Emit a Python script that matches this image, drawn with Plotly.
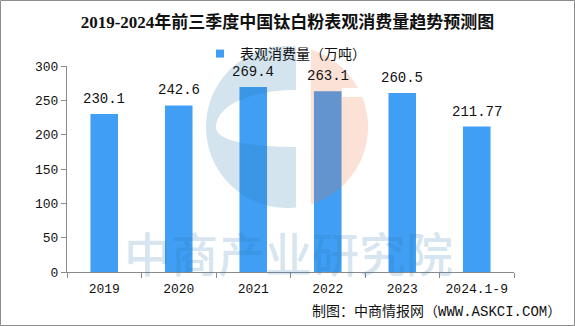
import numpy as np
import plotly.graph_objects as go

# Apparent consumption of titanium dioxide in China (10k tonnes)
years = ["2019", "2020", "2021", "2022", "2023", "2024.1-9"]
consumption = [230.1, 242.6, 269.4, 263.1, 260.5, 211.77]
series_name = "表观消费量（万吨）"
y_ticks = [0, 50, 100, 150, 200, 250, 300]

W, H = 575, 326
ML, MR, MT, MB = 67, 61, 66, 54
PW, PH = W - ML - MR, H - MT - MB

BAR = "#409EF5"
AXIS = "#8a8a8a"
MONO = "Liberation Mono, Noto Sans CJK SC"
CJK = "Noto Sans CJK SC"


def px(x):
    return (x - ML) / PW


def py(y):
    return (H - MB - y) / PH


def poly_path(points):
    pts = [f"{px(x):.5f},{py(y):.5f}" for x, y in points]
    return "M " + " L ".join(pts) + " Z"


# Watermark logo: blue "C" and orange disc segment
cx, cy, r = 287.0, 127.0, 81.0


def arc(a0, a1, n=60):
    return [(cx + r * np.cos(a), cy + r * np.sin(a)) for a in np.radians(np.linspace(a0, a1, n))]


def bez(p0, p1, p2, p3, n=30):
    s = np.linspace(0, 1, n)[:, None]
    p0, p1, p2, p3 = map(np.array, (p0, p1, p2, p3))
    pts = (1 - s) ** 3 * p0 + 3 * (1 - s) ** 2 * s * p1 + 3 * (1 - s) * s ** 2 * p2 + s ** 3 * p3
    return [tuple(p) for p in pts]


hole = bez((296, 147), (255, 147), (216, 142), (216, 127)) + \
       bez((216, 127), (216, 106), (250, 90), (296, 90))
blue_c = arc(-83.6, -276.4, 80) + hole
orange = arc(-72.8, -28.8) + [(342, 88), (342, 97)] + arc(-21.8, 72.8)

fig = go.Figure()

fig.add_trace(go.Bar(
    x=years, y=consumption, width=0.37,
    marker=dict(color=BAR, line=dict(width=0)),
    showlegend=False, hoverinfo="x+y",
))

# legend entry with a small square swatch
fig.add_trace(go.Scatter(
    x=[years[0]], y=[None], mode="markers", name=series_name,
    marker=dict(symbol="square", size=8, color=BAR), hoverinfo="skip",
))

# value labels above each bar (category index positions)
annotations = [
    dict(x=i, y=v, xref="x", yref="y", text=str(v), showarrow=False,
         yanchor="bottom", yshift=5, font=dict(family=MONO, size=14, color="#111"))
    for i, v in enumerate(consumption)
]

annotations.append(dict(
    x=px(288), y=py(251), xref="paper", yref="paper", text="中商产业研究院",
    showarrow=False, xanchor="center", yanchor="middle",
    font=dict(family=CJK, size=47, color="rgba(40,120,170,0.2)", weight=500),
))

annotations.append(dict(
    x=px(563), y=py(312), xref="paper", yref="paper",
    text="制图：中商情报网（WWW.ASKCI.COM）", showarrow=False,
    xanchor="right", yanchor="middle",
    font=dict(family=MONO, size=14, color="#111"),
))

shapes = [
    dict(type="path", xref="paper", yref="paper", path=poly_path(blue_c),
         fillcolor="rgba(40,120,170,0.2)", line=dict(width=0), layer="above"),
    dict(type="path", xref="paper", yref="paper", path=poly_path(orange),
         fillcolor="rgba(238,112,60,0.21)", line=dict(width=0), layer="above"),
    dict(type="rect", xref="paper", yref="paper",
         x0=px(0.5), x1=px(W - 0.5), y0=py(H - 0.5), y1=py(0.5),
         line=dict(color="#8c8c8c", width=1), fillcolor="rgba(0,0,0,0)", layer="above"),
]

fig.update_layout(
    width=W, height=H,
    margin=dict(l=ML, r=MR, t=MT, b=MB, pad=0),
    paper_bgcolor="white", plot_bgcolor="white",
    title=dict(
        text="2019-2024年前三季度中国钛白粉表观消费量趋势预测图",
        x=0.5, xanchor="center", y=1 - 22 / H, yanchor="middle",
        font=dict(family="Liberation Serif, Noto Sans CJK SC", size=17, color="#111", weight="bold"),
    ),
    legend=dict(
        orientation="h", x=px(200), xanchor="left", y=py(54), yanchor="middle",
        font=dict(family=CJK, size=14, color="#111"), bgcolor="rgba(0,0,0,0)",
        itemwidth=30,
    ),
    xaxis=dict(
        type="category", categoryorder="array", categoryarray=years,
        range=[-0.5, len(years) - 0.5],
        showline=True, linecolor=AXIS, linewidth=1,
        ticks="outside", ticklen=5, tickcolor=AXIS, tickson="boundaries",
        ticklabelstandoff=4,
        tickfont=dict(family=MONO, size=13, color="#111"),
        showgrid=False, zeroline=False, fixedrange=True,
    ),
    yaxis=dict(
        range=[0, 300], tickvals=y_ticks, showline=True, linecolor=AXIS, linewidth=1,
        ticks="outside", ticklen=5, tickcolor=AXIS,
        tickfont=dict(family=MONO, size=13, color="#111"),
        showgrid=False, zeroline=False, fixedrange=True,
    ),
    annotations=annotations,
    shapes=shapes,
)

fig.write_html("out.html", config={"displayModeBar": False})
